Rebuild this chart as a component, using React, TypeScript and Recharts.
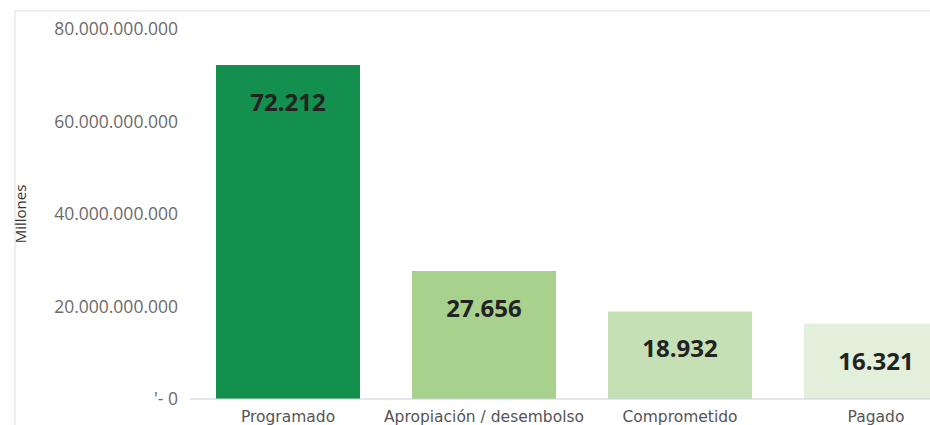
import React from 'react';
import { Bar, BarChart, XAxis, YAxis, Cell, LabelList } from 'recharts';

const categories = ['Programado', 'Apropiación / desembolso', 'Comprometido', 'Pagado'];
const montos = [72212e6, 27656e6, 18932e6, 16321e6];
const colores = ['#13904d', '#a9d18e', '#c5e0b4', '#e2efda'];
const yTicks = [0, 20e9, 40e9, 60e9, 80e9];

const data = categories.map((name, i) => ({ name, monto: montos[i] }));

const fmtTick = (v: number) => (v === 0 ? "'- 0" : v.toLocaleString('de-DE'));
const fmtMillones = (v: number) => Math.round(v / 1e6).toLocaleString('de-DE');

export default function App() {
  return (
    <div style={{ position: 'relative', width: 930, height: 425, overflow: 'hidden', background: '#fff' }}>
      <style>{'body{margin:0;overflow:hidden}'}</style>
      <div
        style={{
          position: 'absolute',
          left: 14,
          top: 10,
          right: 0,
          bottom: 0,
          borderTop: '2px solid #eeeeee',
          borderLeft: '2px solid #eeeeee',
        }}
      />
      <div style={{ position: 'absolute', left: 0, top: 0 }}>
        <BarChart
          width={974}
          height={425}
          data={data}
          margin={{ top: 29, right: 0, left: 0, bottom: 0 }}
          barCategoryGap={26}
        >
          <XAxis
            dataKey="name"
            height={26}
            tickLine={false}
            tickMargin={6}
            axisLine={{ stroke: '#c8d0d8' }}
            tick={{ fill: '#555', fontSize: 15.5, fontFamily: 'DejaVu Sans' }}
            interval={0}
          />
          <YAxis
            width={190}
            domain={[0, 80e9]}
            ticks={yTicks}
            tickFormatter={fmtTick}
            axisLine={false}
            tickLine={false}
            tickMargin={6}
            tick={{ fill: '#6b6b6b', fontSize: 17.5, fontFamily: 'Open Sans' }}
            label={{
              value: 'Millones',
              angle: -90,
              position: 'insideLeft',
              offset: 21,
              style: { fill: '#333', fontSize: 15, fontFamily: 'Open Sans', textAnchor: 'middle' },
            }}
          />
          <Bar dataKey="monto" isAnimationActive={false}>
            {data.map((d, i) => (
              <Cell key={d.name} fill={colores[i]} />
            ))}
            <LabelList
              dataKey="monto"
              position="insideTop"
              offset={29}
              formatter={fmtMillones}
              style={{ fill: '#222', fontSize: 24, fontWeight: 700, fontFamily: 'Open Sans' }}
            />
          </Bar>
        </BarChart>
      </div>
    </div>
  );
}
